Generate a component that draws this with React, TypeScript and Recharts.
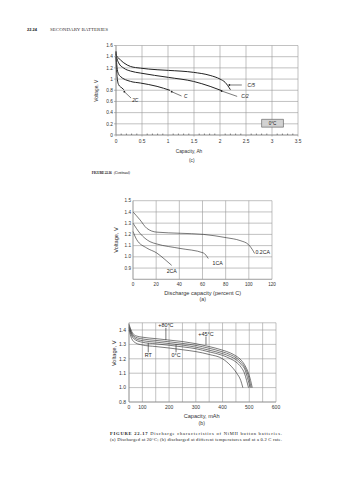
import React from 'react';
import { LineChart, Line, XAxis, YAxis, CartesianGrid, ReferenceLine, ReferenceDot, ReferenceArea } from 'recharts';

const SANS = 'Liberation Sans, Arial, sans-serif';
const SERIF = 'Liberation Serif, Times New Roman, serif';

// ---------- Figure 22.16 (c): 0°C ----------
const c1XTicks = [0, 0.5, 1, 1.5, 2, 2.5, 3, 3.5];
const c1XLabels = ['0', '0.5', '1', '1.5', '2', '2.5', '3', '3.5'];
const c1YTicks = [0, 0.2, 0.4, 0.6, 0.8, 1, 1.2, 1.4, 1.6];
const c1YLabels = ['0', '0.2', '0.4', '0.6', '0.8', '1', '1.2', '1.4', '1.6'];
const c1Minor = [0.1, 0.2, 0.3, 0.4, 0.6, 0.7, 0.8, 0.9, 1.1, 1.2, 1.3, 1.4, 1.6, 1.7, 1.8, 1.9, 2.1, 2.2, 2.3, 2.4, 2.6, 2.7, 2.8, 2.9, 3.1, 3.2, 3.3, 3.4];

const c1C5 = [
  { x: 0, v: 1.48 }, { x: 0.01, v: 1.42 }, { x: 0.05, v: 1.375 }, { x: 0.15, v: 1.29 }, { x: 0.28, v: 1.225 },
  { x: 0.47, v: 1.195 }, { x: 0.79, v: 1.167 }, { x: 1.01, v: 1.155 }, { x: 1.49, v: 1.12 }, { x: 1.81, v: 1.065 },
  { x: 2.0, v: 1.0 }, { x: 2.1, v: 0.94 }, { x: 2.2, v: 0.81 },
];
const c1C2 = [
  { x: 0, v: 1.45 }, { x: 0.01, v: 1.4 }, { x: 0.05, v: 1.29 }, { x: 0.15, v: 1.195 }, { x: 0.28, v: 1.143 },
  { x: 0.47, v: 1.107 }, { x: 1.01, v: 1.03 }, { x: 1.49, v: 0.958 }, { x: 1.81, v: 0.869 }, { x: 2.04, v: 0.79 },
];
const c1C = [
  { x: 0, v: 1.4 }, { x: 0.01, v: 1.3 }, { x: 0.03, v: 1.14 }, { x: 0.08, v: 1.05 }, { x: 0.28, v: 0.958 },
  { x: 0.47, v: 0.929 }, { x: 0.79, v: 0.869 }, { x: 1.04, v: 0.798 },
];
const c1C2x = [
  { x: 0, v: 1.5 }, { x: 0.005, v: 1.26 }, { x: 0.02, v: 1.05 }, { x: 0.05, v: 0.9 }, { x: 0.115, v: 0.84 }, { x: 0.15, v: 0.81 },
];

// ---------- Figure 22.17 (a) ----------
const c2XTicks = [0, 20, 40, 60, 80, 100, 120];
const c2XLabels = ['0', '20', '40', '60', '80', '100', '120'];
const c2YTicks = [0.8, 0.9, 1.0, 1.1, 1.2, 1.3, 1.4, 1.5];
const c2YLabels = ['', '0.9', '1.0', '1.1', '1.2', '1.3', '1.4', '1.5'];

const c2CA02 = [
  { x: 0, v: 1.4 }, { x: 6, v: 1.33 }, { x: 11.8, v: 1.255 }, { x: 20.4, v: 1.22 }, { x: 40.6, v: 1.21 },
  { x: 60.7, v: 1.2 }, { x: 80.9, v: 1.17 }, { x: 92.4, v: 1.145 }, { x: 99.6, v: 1.11 }, { x: 103.9, v: 1.05 }, { x: 105, v: 1.03 },
];
const c2CA1 = [
  { x: 0, v: 1.3 }, { x: 6, v: 1.21 }, { x: 14.7, v: 1.135 }, { x: 20.4, v: 1.115 }, { x: 40.6, v: 1.075 },
  { x: 60.7, v: 1.035 }, { x: 65, v: 0.985 },
];
const c2CA2 = [
  { x: 0, v: 1.226 }, { x: 3.2, v: 1.153 }, { x: 11.8, v: 1.079 }, { x: 20.4, v: 1.035 }, { x: 27.6, v: 0.976 }, { x: 33.4, v: 0.924 },
];

// ---------- Figure 22.17 (b) ----------
const c3XTicks = [50, 100, 150, 200, 250, 300, 350, 400, 450, 500, 550, 600];
const c3XLabels = ['0', '100', '', '200', '', '300', '', '400', '', '500', '', '600'];
const c3YTicks = [0.9, 1.0, 1.1, 1.2, 1.3, 1.4, 1.45];
const c3YLabels = ['0.8', '1.0', '1.1', '1.2', '1.3', '1.4', ''];

const c3A = [
  { x: 50, v: 1.44 }, { x: 60, v: 1.39 }, { x: 75, v: 1.36 }, { x: 100, v: 1.35 }, { x: 150, v: 1.34 }, { x: 200, v: 1.33 },
  { x: 250, v: 1.32 }, { x: 300, v: 1.305 }, { x: 350, v: 1.285 }, { x: 400, v: 1.26 }, { x: 430, v: 1.24 }, { x: 450, v: 1.22 },
  { x: 470, v: 1.19 }, { x: 485, v: 1.15 }, { x: 495, v: 1.11 }, { x: 505, v: 1.05 }, { x: 511, v: 1.0 },
];
const c3B = [
  { x: 50, v: 1.43 }, { x: 60, v: 1.38 }, { x: 75, v: 1.35 }, { x: 100, v: 1.338 }, { x: 150, v: 1.328 }, { x: 200, v: 1.318 },
  { x: 250, v: 1.307 }, { x: 300, v: 1.293 }, { x: 350, v: 1.273 }, { x: 400, v: 1.248 }, { x: 430, v: 1.228 }, { x: 450, v: 1.208 },
  { x: 470, v: 1.175 }, { x: 485, v: 1.135 }, { x: 495, v: 1.09 }, { x: 502, v: 1.04 }, { x: 507, v: 1.0 },
];
const c3C = [
  { x: 50, v: 1.42 }, { x: 60, v: 1.37 }, { x: 75, v: 1.34 }, { x: 100, v: 1.326 }, { x: 150, v: 1.316 }, { x: 200, v: 1.306 },
  { x: 250, v: 1.295 }, { x: 300, v: 1.281 }, { x: 350, v: 1.26 }, { x: 400, v: 1.236 }, { x: 430, v: 1.215 }, { x: 450, v: 1.195 },
  { x: 470, v: 1.16 }, { x: 485, v: 1.12 }, { x: 493, v: 1.07 }, { x: 499, v: 1.03 }, { x: 503, v: 1.0 },
];
const c3D = [
  { x: 50, v: 1.41 }, { x: 60, v: 1.36 }, { x: 75, v: 1.33 }, { x: 100, v: 1.315 }, { x: 150, v: 1.304 }, { x: 200, v: 1.294 },
  { x: 250, v: 1.283 }, { x: 300, v: 1.27 }, { x: 350, v: 1.248 }, { x: 400, v: 1.224 }, { x: 430, v: 1.2 }, { x: 450, v: 1.178 },
  { x: 470, v: 1.14 }, { x: 482, v: 1.1 }, { x: 490, v: 1.05 }, { x: 497, v: 1.0 },
];
const c3E = [
  { x: 50, v: 1.4 }, { x: 60, v: 1.34 }, { x: 75, v: 1.31 }, { x: 100, v: 1.296 }, { x: 150, v: 1.285 }, { x: 200, v: 1.275 },
  { x: 250, v: 1.263 }, { x: 300, v: 1.25 }, { x: 350, v: 1.23 }, { x: 400, v: 1.2 }, { x: 428, v: 1.157 }, { x: 453, v: 1.1 },
  { x: 468, v: 1.05 }, { x: 476, v: 1.0 },
];

const fmt = (ticks: number[], labels: string[]) => (v: number) => {
  const i = ticks.findIndex((t) => Math.abs(t - v) < 1e-9);
  return i >= 0 ? labels[i] : '';
};

const ann = (key: string, x: number, y: number, s: string, size: number, italic = false) => (
  <ReferenceDot
    key={key}
    x={x}
    y={y}
    r={0}
    fill="none"
    stroke="none"
    ifOverflow="visible"
    label={{ value: s, position: 'center', fontSize: size, fontFamily: SANS, fontStyle: italic ? 'italic' : 'normal', fill: '#222' }}
  />
);

const seg = (key: string, x1: number, y1: number, x2: number, y2: number) => (
  <ReferenceLine key={key} segment={[{ x: x1, y: y1 }, { x: x2, y: y2 }]} stroke="#222" strokeWidth={0.6} ifOverflow="visible" />
);

const tip = (key: string, x: number, y: number) => (
  <ReferenceDot key={key} x={x} y={y} r={0.9} fill="#222" stroke="none" ifOverflow="visible" />
);

const lineProps = { type: 'monotone' as const, dataKey: 'v', stroke: '#222', dot: false, isAnimationActive: false };

export default function App() {
  return (
    <div style={{ position: 'absolute', left: 0, top: 0, width: 358, height: 480, background: '#fff', overflow: 'hidden' }}>
      {/* Chart (c) */}
      <div style={{ position: 'absolute', left: 80, top: 35 }}>
        <LineChart width={228} height={120} margin={{ top: 10.5, right: 10, left: 0, bottom: 0 }}>
          <CartesianGrid stroke="#999" strokeWidth={0.6} />
          <XAxis type="number" dataKey="x" domain={[0, 3.5]} ticks={c1XTicks} interval={0} height={20}
            tickFormatter={fmt(c1XTicks, c1XLabels)} tick={{ fontSize: 4.8, fontFamily: SANS, fill: '#333' }}
            tickSize={1.5} tickMargin={3} stroke="#888" strokeWidth={0.6} />
          <YAxis type="number" domain={[0, 1.6]} ticks={c1YTicks} interval={0} width={36}
            tickFormatter={fmt(c1YTicks, c1YLabels)} tick={{ fontSize: 4.8, fontFamily: SANS, fill: '#333' }}
            tickSize={2} tickMargin={1} stroke="#888" strokeWidth={0.6} />
          {c1Minor.map((m, i) => seg('m' + i, m, 0, m, 0.025))}
          <Line {...lineProps} data={c1C5} strokeWidth={1} />
          <Line {...lineProps} data={c1C2} strokeWidth={1} />
          <Line {...lineProps} data={c1C} strokeWidth={1} />
          <Line {...lineProps} data={c1C2x} strokeWidth={1} />
          {seg('a1', 2.18, 0.894, 2.42, 0.894)}
          {tip('t1', 2.18, 0.894)}
          {ann('l1', 2.6, 0.894, 'C/5', 4.8, true)}
          {seg('a2', 2.03, 0.787, 2.33, 0.69)}
          {tip('t2', 2.03, 0.787)}
          {ann('l2', 2.48, 0.685, 'C/2', 4.8, true)}
          {seg('a3', 1.07, 0.774, 1.26, 0.697)}
          {tip('t3', 1.07, 0.774)}
          {ann('l3', 1.34, 0.685, 'C', 4.8, true)}
          {seg('a4', 0.16, 0.774, 0.29, 0.66)}
          {tip('t4', 0.16, 0.774)}
          {ann('l4', 0.37, 0.626, '2C', 4.8, true)}
          <ReferenceArea x1={2.8} x2={3.22} y1={0.14} y2={0.28} fill="#d2d2d2" fillOpacity={1} stroke="#555" strokeWidth={0.6}
            label={{ value: '0°C', position: 'center', fontSize: 4.6, fontFamily: SANS, fill: '#222' }} />
        </LineChart>
      </div>

      {/* Chart 22.17 (a) */}
      <div style={{ position: 'absolute', left: 100, top: 190 }}>
        <LineChart width={182} height={109.3} margin={{ top: 10.7, right: 10, left: 0, bottom: 0 }}>
          <CartesianGrid stroke="#999" strokeWidth={0.6} />
          <XAxis type="number" dataKey="x" domain={[0, 120]} ticks={c2XTicks} interval={0} height={20}
            tickFormatter={fmt(c2XTicks, c2XLabels)} tick={{ fontSize: 4.6, fontFamily: SANS, fill: '#333' }}
            tickLine={false} tickSize={0} tickMargin={3} stroke="#999" strokeWidth={0.6} />
          <YAxis type="number" domain={[0.8, 1.5]} ticks={c2YTicks} interval={0} width={33}
            tickFormatter={fmt(c2YTicks, c2YLabels)} tick={{ fontSize: 4.6, fontFamily: SANS, fill: '#333' }}
            tickLine={false} tickSize={0} tickMargin={2} stroke="#999" strokeWidth={0.6} />
          <Line {...lineProps} data={c2CA02} strokeWidth={0.6} />
          <Line {...lineProps} data={c2CA1} strokeWidth={0.6} />
          <Line {...lineProps} data={c2CA2} strokeWidth={0.6} />
          {ann('b1', 112, 1.044, '0.2CA', 5.2)}
          {ann('b2', 73, 0.948, '1CA', 5.2)}
          {ann('b3', 33.4, 0.871, '2CA', 5.2)}
        </LineChart>
      </div>

      {/* Chart 22.17 (b) */}
      <div style={{ position: 'absolute', left: 95, top: 312 }}>
        <LineChart width={191} height={110} margin={{ top: 10.8, right: 10, left: 0, bottom: 0 }}>
          <CartesianGrid stroke="#999" strokeWidth={0.6} />
          <XAxis type="number" dataKey="x" domain={[50, 600]} ticks={c3XTicks} interval={0} height={20}
            tickFormatter={fmt(c3XTicks, c3XLabels)} tick={{ fontSize: 5, fontFamily: SANS, fill: '#333' }}
            tickLine={false} tickSize={0} tickMargin={3} stroke="#888" strokeWidth={0.6} />
          <YAxis type="number" domain={[0.9, 1.45]} ticks={c3YTicks} interval={0} width={34}
            tickFormatter={fmt(c3YTicks, c3YLabels)} tick={{ fontSize: 5, fontFamily: SANS, fill: '#333' }}
            tickLine={false} tickSize={0} tickMargin={3} stroke="#888" strokeWidth={0.6} />
          <Line {...lineProps} data={c3A} strokeWidth={0.6} />
          <Line {...lineProps} data={c3B} strokeWidth={0.6} />
          <Line {...lineProps} data={c3C} strokeWidth={0.6} />
          <Line {...lineProps} data={c3D} strokeWidth={0.6} />
          <Line {...lineProps} data={c3E} strokeWidth={0.6} />
          {seg('s1', 188, 1.415, 188, 1.33)}
          {ann('k1', 188, 1.435, '+80°C', 5.4)}
          {seg('s2', 338, 1.355, 338, 1.297)}
          {ann('k2', 338, 1.373, '+45°C', 5.4)}
          {seg('s3', 122, 1.245, 122, 1.31)}
          {ann('k3', 122, 1.225, 'RT', 5.4)}
          {seg('s4', 226, 1.245, 226, 1.30)}
          {ann('k4', 226, 1.225, '0°C', 5.4)}
        </LineChart>
      </div>

      {/* Page text */}
      <svg width={358} height={480} style={{ position: 'absolute', left: 0, top: 0, pointerEvents: 'none' }}>
        <text x={27} y={30.8} fontSize={4} fontWeight="bold" fontFamily={SANS} fill="#222">22.24</text>
        <text x={50} y={30.8} fontSize={4} fontFamily={SERIF} fill="#333" textLength={58} lengthAdjust="spacingAndGlyphs" style={{ fontVariant: 'small-caps' }}>SECONDARY BATTERIES</text>

        <text transform="translate(96.7,90.7) rotate(-90)" textAnchor="middle" dominantBaseline="central" fontSize={4.8} fontFamily={SANS} fill="#333">Voltage, V</text>
        <text x={189} y={151.7} textAnchor="middle" dominantBaseline="central" fontSize={4.8} fontFamily={SANS} fill="#333">Capacity, Ah</text>
        <text x={191.7} y={160.3} textAnchor="middle" dominantBaseline="central" fontSize={4.8} fontFamily={SANS} fill="#333">(c)</text>
        <text x={91.7} y={174.2} fontSize={3.6} fontWeight="bold" fontFamily={SERIF} fill="#222" letterSpacing={-0.25}>FIGURE 22.16</text>
        <text x={114} y={174.2} fontSize={3.6} fontStyle="italic" fontFamily={SERIF} fill="#222" letterSpacing={-0.15}>(Continued)</text>

        <text transform="translate(116,240) rotate(-90)" textAnchor="middle" dominantBaseline="central" fontSize={5.6} fontFamily={SANS} fill="#333">Voltage, V</text>
        <text x={202.7} y={292.7} textAnchor="middle" dominantBaseline="central" fontSize={5.6} fontFamily={SANS} fill="#333">Discharge capacity (percent C)</text>
        <text x={202.7} y={299} textAnchor="middle" dominantBaseline="central" fontSize={5.2} fontFamily={SANS} fill="#333">(a)</text>

        <text transform="translate(114,353.3) rotate(-90)" textAnchor="middle" dominantBaseline="central" fontSize={5.6} fontFamily={SANS} fill="#333">Voltage, V</text>
        <text x={201.7} y={415.7} textAnchor="middle" dominantBaseline="central" fontSize={5.6} fontFamily={SANS} fill="#333">Capacity, mAh</text>
        <text x={201.7} y={423.3} textAnchor="middle" dominantBaseline="central" fontSize={5.2} fontFamily={SANS} fill="#333">(b)</text>

        <text x={110} y={434.8} fontSize={4.6} fontFamily={SERIF} fill="#222" textLength={172} lengthAdjust="spacing">
          <tspan fontWeight="bold">FIGURE 22.17</tspan>
          <tspan>{'  Discharge characteristics of NiMH button batteries.'}</tspan>
        </text>
        <text x={110} y={440.8} fontSize={4.6} fontFamily={SERIF} fill="#222" textLength={172} lengthAdjust="spacing">
          (a) Discharged at 20°C; (b) discharged at different temperatures and at a 0.2 C rate.
        </text>
      </svg>
    </div>
  );
}
